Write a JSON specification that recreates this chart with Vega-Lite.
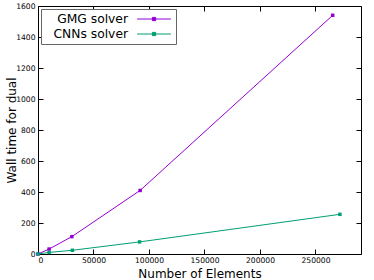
{
  "$schema": "https://vega.github.io/schema/vega-lite/v6.json",
  "width": 323,
  "height": 248,
  "autosize": "none",
  "padding": {"left": 38, "top": 6, "right": 13, "bottom": 26},
  "config": {
    "font": "DejaVu Sans",
    "view": {"stroke": "#000", "strokeWidth": 1},
    "axis": {"grid": false, "domain": false, "tickColor": "#000", "tickSize": -5, "labelColor": "#000", "labelFontSize": 7.6, "labelFont": "DejaVu Sans", "titleFont": "DejaVu Sans", "titleFontWeight": "normal", "titleFontSize": 12, "titleColor": "#000"},
    "legend": {"strokeColor": "#666", "fillColor": "#fff"}
  },
  "data": {"values": [
    {"n": 0, "t": 0, "s": "GMG solver"},
    {"n": 10000, "t": 32, "s": "GMG solver"},
    {"n": 30500, "t": 112, "s": "GMG solver"},
    {"n": 92000, "t": 410, "s": "GMG solver"},
    {"n": 265500, "t": 1540, "s": "GMG solver"},
    {"n": 0, "t": 0, "s": "CNNs solver"},
    {"n": 10000, "t": 10, "s": "CNNs solver"},
    {"n": 31000, "t": 24, "s": "CNNs solver"},
    {"n": 91500, "t": 78, "s": "CNNs solver"},
    {"n": 272000, "t": 256, "s": "CNNs solver"}
  ]},
  "layer": [
    {
      "mark": {"type": "line", "strokeWidth": 1, "point": {"shape": "square", "size": 12, "filled": true}},
      "encoding": {
        "x": {"field": "n", "type": "quantitative", "scale": {"domain": [0, 291000], "nice": false, "zero": false},
          "axis": {"orient": "bottom", "values": [0, 50000, 100000, 150000, 200000, 250000], "format": "d", "labelPadding": 7, "title": "Number of Elements", "titleBaseline": "alphabetic", "titleY": 23.5}},
        "y": {"field": "t", "type": "quantitative", "scale": {"domain": [0, 1600], "nice": false},
          "axis": {"orient": "left", "values": [0, 200, 400, 600, 800, 1000, 1200, 1400, 1600], "format": "d", "labelPadding": 8, "title": "Wall time for dual", "titleX": -27, "titleBaseline": "middle"}},
        "color": {"field": "s", "type": "nominal", "sort": ["GMG solver", "CNNs solver"],
          "scale": {"domain": ["GMG solver", "CNNs solver"], "range": ["#9400d3", "#009e73"]},
          "legend": {"title": null, "orient": "top-left", "offset": 3, "padding": 3, "strokeColor": "#666", "fillColor": "#fff",
            "labelFontSize": 12.3, "labelFont": "DejaVu Sans", "labelColor": "#000", "labelAlign": "right", "labelOffset": -33, "symbolOffset": 103,
            "symbolType": "M-2.6,0H2.6M-0.25,-0.25H0.25V0.25H-0.25Z", "symbolSize": 169, "symbolStrokeWidth": 1, "rowPadding": 1,
            "encode": {
              "legend": {"update": {"stroke": {"value": "#666"}, "fill": {"value": "#fff"}, "strokeWidth": {"value": 1}}},
              "symbols": {"update": {"fill": {"scale": "color", "field": "value"}, "fillOpacity": {"value": 1}}}}}}
      }
    },
    {
      "mark": {"type": "point", "opacity": 0},
      "encoding": {
        "x": {"field": "n", "type": "quantitative", "axis": {"orient": "top", "values": [0, 50000, 100000, 150000, 200000, 250000], "labels": false, "title": null}},
        "y": {"field": "t", "type": "quantitative", "axis": {"orient": "right", "values": [0, 200, 400, 600, 800, 1000, 1200, 1400, 1600], "labels": false, "title": null}}
      }
    }
  ],
  "resolve": {"axis": {"x": "independent", "y": "independent"}}
}
